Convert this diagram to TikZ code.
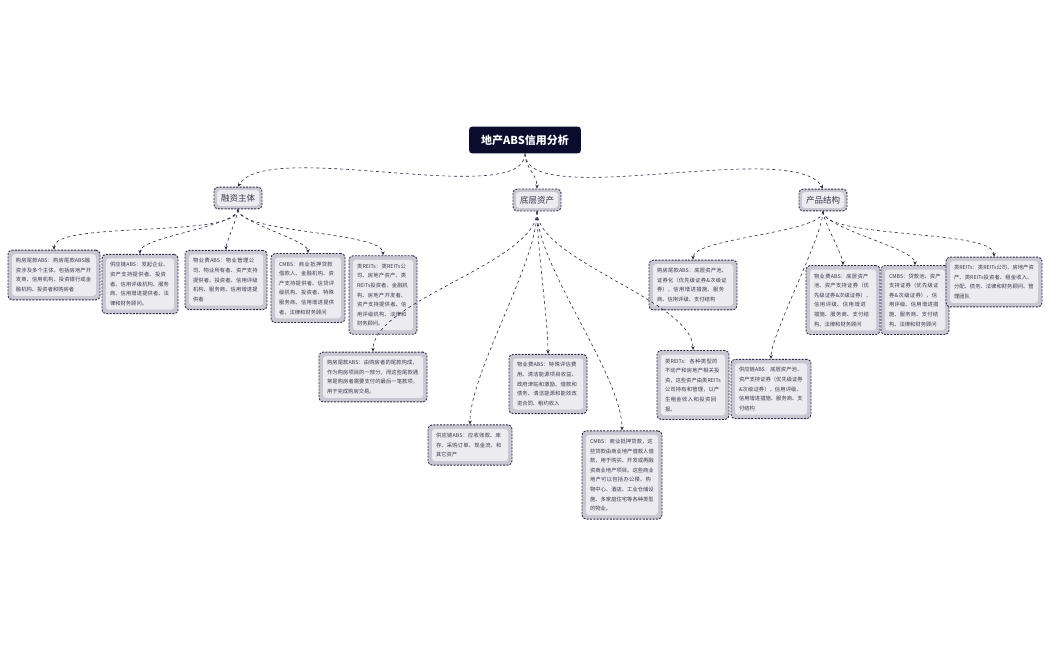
\documentclass[tikz,border=0pt]{standalone}
\usepackage{fontspec}
\setmainfont{Noto Sans CJK SC}
\XeTeXlinebreaklocale "zh"
\XeTeXlinebreakskip=0pt plus 1pt
\usetikzlibrary{arrows.meta}
\definecolor{navy}{HTML}{0B0B2E}
\definecolor{boxin}{HTML}{ECEBF0}
\definecolor{boxmid}{HTML}{C9C8D2}
\definecolor{edge}{HTML}{2A2A4A}
\definecolor{txt}{HTML}{3A3A4A}
\begin{document}
\begin{tikzpicture}[x=1pt,y=-1pt,
  inbox/.style={path picture={\fill[boxin,rounded corners=3pt] ([shift={(#1,-#1)}]path picture bounding box.north west) rectangle ([shift={(-#1,#1)}]path picture bounding box.south east);}},
  leaf/.style={draw=edge, dash pattern=on 2pt off 1.3pt, line width=0.9pt, fill=boxmid, inbox=4pt, rounded corners=4pt, text=txt, font=\fontsize{5.3}{9.6}\selectfont, align=left, inner sep=8pt, text width=#1},
  mid/.style={draw=edge, dash pattern=on 2pt off 1.3pt, line width=0.9pt, fill=boxmid, inbox=3pt, rounded corners=4pt, text=txt, font=\fontsize{8.5}{10}\selectfont, inner sep=7pt},
  root/.style={fill=navy, rounded corners=3pt, text=white, font=\bfseries\fontsize{11}{13}\selectfont, inner xsep=12pt, inner ysep=8pt},
  con/.style={draw=edge, dashed, line width=0.6pt, -{Stealth[length=4pt,width=3.5pt]}}]
\useasboundingbox (0,0) rectangle (1050,650);
\node[root] (r) at (525,140) {地产ABS信用分析};
\node[mid] (f) at (238,198) {融资主体};
\node[mid] (u) at (537,200) {底层资产};
\node[mid] (p) at (823,200) {产品结构};

\node[leaf=76pt] (a1) at (54,275) {购房尾款ABS：购房尾款ABS融资涉及多个主体，包括房地产开发商、信用机构、投资银行或金融机构、投资者和购房者};
\node[leaf=60pt] (a2) at (140,284) {供应链ABS：发起企业、资产支持提供者、投资者、信用评级机构、服务商、信用增进提供者、法律和财务顾问。};
\node[leaf=66pt] (a3) at (226,280) {物业费ABS：物业管理公司、物业所有者、资产支持提供者、投资者、信用评级机构、服务商、信用增进提供者};
\node[leaf=58pt] (a4) at (308,288) {CMBS：商业抵押贷款借款人、金融机构、资产支持提供者、信贷评级机构、投资者、特殊服务商、信用增进提供者、法律和财务顾问};
\node[leaf=52pt] (a5) at (383,295) {类REITs：类REITs公司、房地产资产、类REITs投资者、金融机构、房地产开发者、资产支持提供者、信用评级机构、法律和财务顾问。};

\node[leaf=92pt] (b1) at (373,377) {购房尾款ABS：由购房者的尾款构成，作为购房项目的一部分，而这些尾款通常是购房者需要支付的最后一笔款项，用于完成购房交易。};
\node[leaf=62pt] (b2) at (548,384) {物业费ABS：特殊评估费用、清洁能源项目收益、政府津贴和激励、借款和债务、清洁能源和能效改进合同、租约收入};
\node[leaf=68pt] (b3) at (470,445) {供应链ABS：应收账款、库存、采购订单、现金流、和其它资产};
\node[leaf=64pt] (b4) at (622,475) {CMBS：商业抵押贷款，这些贷款由商业地产借款人借款，用于购买、开发或再融资商业地产项目。这些商业地产可以包括办公楼、购物中心、酒店、工业仓储设施、多家庭住宅等各种类型的物业。};
\node[leaf=56pt] (b5) at (693,385) {类REITs：各种类型的不动产和房地产相关投资，这些资产由类REITs公司持有和管理，以产生租金收入和投资回报。};

\node[leaf=72pt] (c1) at (693,285) {购房尾款ABS：底层资产池、证券化（优先级证券\&次级证券），信用增进措施、服务商、信用评级、支付结构};
\node[leaf=64pt] (c2) at (771,389) {供应链ABS：底层资产池、资产支持证券（优先级证券\&次级证券），信用评级、信用增进措施、服务商、支付结构};
\node[leaf=58pt] (c3) at (843,300) {物业费ABS：底层资产池、资产支持证券（优先级证券\&次级证券），信用评级、信用增进措施、服务商、支付结构、法律和财务顾问};
\node[leaf=52pt] (c4) at (915,300) {CMBS：贷款池、资产支持证券（优先级证券\&次级证券），信用评级、信用增进措施、服务商、支付结构、法律和财务顾问};
\node[leaf=80pt] (c5) at (994,282) {类REITs：类REITs公司、房地产资产、类REITs投资者、租金收入、分配、债务、法律和财务顾问、管理团队};

\draw[con] (r.south) to[out=-90,in=60,looseness=0.5] (f.north);
\draw[con] (r.south) to[out=-90,in=90] (u.north);
\draw[con] (r.south) to[out=-90,in=120,looseness=0.5] (p.north);
\foreach \t in {a1,a2,a3,a4,a5} \draw[con] (f.south) to[out=-90,in=90,looseness=0.4] (\t.north);
\foreach \t in {b1,b2,b3,b4,b5} \draw[con] (u.south) to[out=-90,in=90,looseness=0.6] (\t.north);
\foreach \t in {c1,c2,c3,c4,c5} \draw[con] (p.south) to[out=-90,in=90,looseness=0.4] (\t.north);
\end{tikzpicture}
\end{document}
